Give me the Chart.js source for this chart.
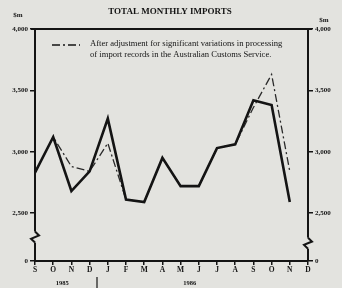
<!DOCTYPE html>
<html>
<head>
<meta charset="utf-8">
<script src="https://cdn.jsdelivr.net/npm/chart.js@4/dist/chart.umd.min.js"></script>
<style>
  html, body { margin: 0; padding: 0; background: #e3e3df; }
  #wrap { width: 342px; height: 288px; position: relative; }
</style>
</head>
<body>
<div id="wrap"><canvas id="importsChart"></canvas></div>
<script>
// Total monthly imports, $m, Sep 1985 - Dec 1986
const months = ['S', 'O', 'N', 'D', 'J', 'F', 'M', 'A', 'M', 'J', 'J', 'A', 'S', 'O', 'N', 'D'];
const recorded = [2830, 3120, 2680, 2840, 3270, 2610, 2590, 2950, 2720, 2720, 3030, 3060, 3420, 3380, 2590, null];
const adjusted = [2830, 3120, 2880, 2840, 3070, 2610, 2590, 2950, 2720, 2720, 3030, 3060, 3360, 3630, 2840, null];
const yTicks = [0, 2500, 3000, 3500, 4000];
const years = [{ label: '1985', at: 1.5 }, { label: '1986', at: 8.5 }];
const legendText = ['After adjustment for significant variations in processing',
                    'of import records in the Australian Customs Service.'];

// the axis is broken between 0 and 2,500: zero is drawn at this value
const ZERO_AT = 2110;
const toAxis = v => (v === 0 ? ZERO_AT : v);
const SERIF = '"Liberation Serif", "DejaVu Serif", serif';
const INK = '#141414';
const BG = '#e3e3df';

const fmt = v => v.toLocaleString('en-US');

const decor = {
    id: 'decor',
    afterDraw(chart) {
        const ctx = chart.ctx;
        const ya = chart.scales.y;
        const x = chart.scales.x;
        const top = ya.getPixelForValue(4000);
        ctx.save();

        // title
        ctx.fillStyle = INK;
        ctx.font = 'bold 9px ' + SERIF;
        ctx.textAlign = 'center';
        ctx.textBaseline = 'middle';
        ctx.fillText('TOTAL MONTHLY IMPORTS', 170, 12);

        // unit labels
        ctx.font = 'bold 7px ' + SERIF;
        ctx.fillText('$m', 18, 15);
        ctx.fillText('$m', 324, 20);

        // top rule at 4,000
        ctx.strokeStyle = INK;
        ctx.lineWidth = 2;
        ctx.beginPath();
        ctx.moveTo(x.left - 4, top);
        ctx.lineTo(x.right + 4, top);
        ctx.stroke();

        // legend
        ctx.lineWidth = 1.6;
        ctx.setLineDash([8, 3, 2, 3]);
        ctx.beginPath();
        ctx.moveTo(52, 45);
        ctx.lineTo(80, 45);
        ctx.stroke();
        ctx.setLineDash([]);
        ctx.font = '8.6px ' + SERIF;
        ctx.textAlign = 'left';
        ctx.fillText(legendText[0], 90, 44);
        ctx.fillText(legendText[1], 90, 55);

        // axis breaks
        const breakAxis = (px, v1, v2) => {
            const p1 = ya.getPixelForValue(v1);
            const p2 = ya.getPixelForValue(v2);
            ctx.fillStyle = BG;
            ctx.fillRect(px - 2, p1, 4, p2 - p1);
            ctx.strokeStyle = INK;
            ctx.lineWidth = 2;
            ctx.beginPath();
            ctx.moveTo(px, p1);
            ctx.lineTo(px + 4, p1 + (p2 - p1) * 0.35);
            ctx.lineTo(px - 4, p1 + (p2 - p1) * 0.65);
            ctx.lineTo(px, p2);
            ctx.stroke();
        };
        breakAxis(x.left, 2350, 2260);
        breakAxis(x.right, 2300, 2210);

        // years
        ctx.fillStyle = INK;
        ctx.font = 'bold 6.5px ' + SERIF;
        ctx.textAlign = 'center';
        years.forEach(y => ctx.fillText(y.label, x.getPixelForValue(y.at), 283));
        ctx.lineWidth = 1.2;
        ctx.beginPath();
        ctx.moveTo(97, 277);
        ctx.lineTo(97, 288);
        ctx.stroke();

        ctx.restore();
    }
};

const yAxis = (position, width) => ({
    type: 'linear',
    position: position,
    min: ZERO_AT,
    max: 4000,
    afterBuildTicks: s => { s.ticks = yTicks.map(v => ({ value: toAxis(v) })); },
    afterFit: s => { s.width = width; },
    border: { display: true, color: INK, width: 2 },
    grid: { drawOnChartArea: false, color: INK, lineWidth: 1.5, tickLength: 5 },
    ticks: {
        color: INK,
        padding: 2,
        font: { family: SERIF, size: 7, weight: 'bold' },
        callback: v => (v === ZERO_AT ? '0' : fmt(v))
    }
});

new Chart(document.getElementById('importsChart'), {
    type: 'line',
    data: {
        labels: months,
        datasets: [{
            label: 'Recorded',
            data: recorded,
            borderColor: INK,
            borderWidth: 2.6,
            pointRadius: 0,
            tension: 0,
            fill: false
        }, {
            label: 'After adjustment',
            data: adjusted,
            borderColor: '#2a2a2a',
            borderWidth: 1.3,
            borderDash: [8, 3, 2, 3],
            pointRadius: 0,
            tension: 0,
            fill: false
        }]
    },
    options: {
        responsive: true,
        maintainAspectRatio: false,
        animation: false,
        layout: { padding: { top: 29, left: 0, right: 0, bottom: 0 } },
        plugins: { legend: { display: false }, tooltip: { enabled: false }, title: { display: false } },
        scales: {
            x: {
                type: 'category',
                offset: false,
                afterFit: s => { s.height = 27; },
                border: { display: true, color: INK, width: 2 },
                grid: { drawOnChartArea: false, color: INK, lineWidth: 1.5, tickLength: 4 },
                ticks: {
                    color: INK,
                    padding: 1,
                    maxRotation: 0,
                    autoSkip: false,
                    font: { family: SERIF, size: 7.5, weight: 'bold' }
                }
            },
            y: yAxis('left', 35),
            y2: yAxis('right', 34)
        }
    },
    plugins: [decor]
});
</script>
</body>
</html>
